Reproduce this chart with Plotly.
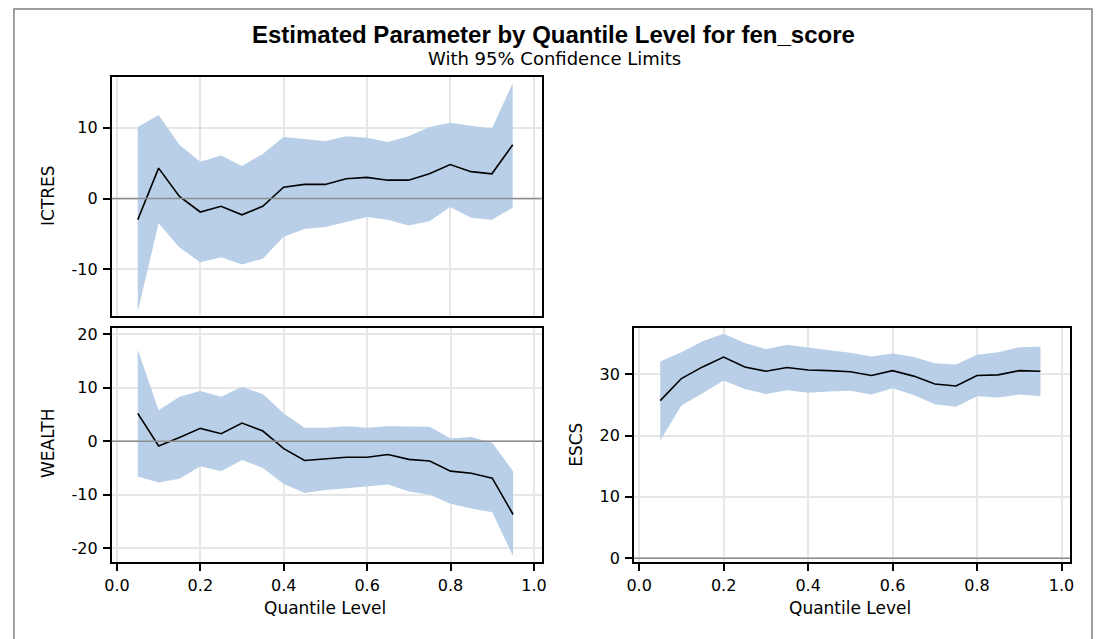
import plotly.graph_objects as go

# Quantile levels at which the regression was estimated
quantiles = [0.05, 0.10, 0.15, 0.20, 0.25, 0.30, 0.35, 0.40, 0.45, 0.50,
             0.55, 0.60, 0.65, 0.70, 0.75, 0.80, 0.85, 0.90, 0.95]

# ICTRES: estimate and 95% confidence limits
ictres_est = [-3.0, 4.3, 0.3, -1.9, -1.1, -2.3, -1.1, 1.6, 2.0, 2.0,
              2.8, 3.0, 2.6, 2.6, 3.5, 4.8, 3.8, 3.5, 7.6]
ictres_upper = [10.1, 11.8, 7.6, 5.2, 6.1, 4.6, 6.3, 8.7, 8.4, 8.1,
                8.8, 8.6, 8.0, 8.8, 10.1, 10.7, 10.3, 9.9, 16.3]
ictres_lower = [-16.0, -3.5, -6.9, -9.0, -8.3, -9.3, -8.5, -5.4, -4.3, -4.0,
                -3.3, -2.6, -3.0, -3.8, -3.2, -1.2, -2.7, -3.0, -1.3]

# WEALTH: estimate and 95% confidence limits
wealth_est = [5.2, -0.9, 0.7, 2.4, 1.4, 3.4, 1.9, -1.4, -3.6, -3.3,
              -3.0, -3.0, -2.5, -3.4, -3.7, -5.6, -6.0, -6.9, -13.7]
wealth_upper = [17.1, 5.8, 8.3, 9.4, 8.3, 10.2, 8.8, 5.2, 2.5, 2.5,
                2.8, 2.5, 2.8, 2.7, 2.7, 0.5, 0.8, -0.3, -5.6]
wealth_lower = [-6.6, -7.7, -7.0, -4.7, -5.6, -3.5, -5.0, -8.0, -9.7, -9.1,
                -8.8, -8.4, -8.1, -9.4, -10.0, -11.7, -12.6, -13.3, -21.5]

# ESCS: estimate and 95% confidence limits
escs_est = [25.7, 29.3, 31.2, 32.8, 31.2, 30.5, 31.1, 30.7, 30.6, 30.4,
            29.8, 30.6, 29.7, 28.4, 28.1, 29.8, 29.9, 30.6, 30.5]
escs_upper = [32.1, 33.6, 35.4, 36.6, 35.1, 34.1, 34.8, 34.3, 33.9, 33.5,
              32.9, 33.4, 32.8, 31.8, 31.6, 33.2, 33.6, 34.4, 34.5]
escs_lower = [19.2, 24.9, 26.9, 29.0, 27.6, 26.8, 27.4, 27.0, 27.2, 27.3,
              26.7, 27.7, 26.6, 25.1, 24.7, 26.4, 26.2, 26.7, 26.4]

# Tick positions and labels
x_ticks = [0.0, 0.2, 0.4, 0.6, 0.8, 1.0]
x_tick_text = ["0.0", "0.2", "0.4", "0.6", "0.8", "1.0"]
ictres_ticks = [-10, 0, 10]
ictres_tick_text = ["-10", "0", "10"]
wealth_ticks = [-20, -10, 0, 10, 20]
wealth_tick_text = ["-20", "-10", "0", "10", "20"]
escs_ticks = [0, 10, 20, 30]
escs_tick_text = ["0", "10", "20", "30"]

x_range = [-0.0125, 1.0195]

BAND = "#b8cfe7"
GRID = "#e6e6e6"
TITLE_FONT = "Liberation Sans, Arial, sans-serif"
FONT = "DejaVu Sans, Verdana, sans-serif"

panels = [
    # (axis suffix, estimate, upper, lower, y range, y ticks, y labels, x domain, y domain)
    ("", ictres_est, ictres_upper, ictres_lower, [-16.6, 17.2],
     ictres_ticks, ictres_tick_text, [0.0955, 0.4914], [0.5039, 0.8842]),
    ("2", wealth_est, wealth_upper, wealth_lower, [-22.6, 21.1],
     wealth_ticks, wealth_tick_text, [0.0955, 0.4918], [0.1127, 0.4844]),
    ("3", escs_est, escs_upper, escs_lower, [-0.65, 37.5],
     escs_ticks, escs_tick_text, [0.5763, 0.9777], [0.1127, 0.4844]),
]

fig = go.Figure()
layout_axes = {}
shapes = []

for i, (sfx, est, upper, lower, yr, yt, ytt, xd, yd) in enumerate(panels):
    xa, ya = "x" + sfx, "y" + sfx
    # confidence band
    fig.add_trace(go.Scatter(x=quantiles, y=lower, mode="lines",
                             line=dict(width=0, color=BAND), hoverinfo="skip",
                             showlegend=False, xaxis=xa, yaxis=ya))
    fig.add_trace(go.Scatter(x=quantiles, y=upper, mode="lines", fill="tonexty",
                             fillcolor=BAND, line=dict(width=0, color=BAND),
                             hoverinfo="skip", showlegend=False, xaxis=xa, yaxis=ya))
    # parameter estimate
    fig.add_trace(go.Scatter(x=quantiles, y=est, mode="lines",
                             line=dict(color="black", width=1.6),
                             showlegend=False, xaxis=xa, yaxis=ya))

    common = dict(showline=True, mirror=True, linecolor="black", linewidth=1.6,
                  ticks="outside", ticklen=7, tickwidth=1.5, tickcolor="black",
                  showgrid=True, gridcolor=GRID, gridwidth=1.5, zeroline=False,
                  tickfont=dict(family=FONT, size=16, color="black"))
    xaxis = dict(common, domain=xd, range=x_range, tickvals=x_ticks,
                 ticktext=x_tick_text, anchor=ya, ticklabelstandoff=1)
    if i == 0:
        # upper panel shares the quantile axis with the panel below
        xaxis.update(ticks="", showticklabels=False)
    layout_axes["xaxis" + sfx] = xaxis
    layout_axes["yaxis" + sfx] = dict(common, domain=yd, range=yr, tickvals=yt,
                                      ticktext=ytt, anchor=xa, ticklabelstandoff=2)
    # reference line at zero
    shapes.append(dict(type="line", xref=xa + " domain", yref=ya,
                       x0=0, x1=1, y0=0, y1=0, layer="above",
                       line=dict(color="#8c8c8c", width=1.5)))

# outer frame of the graphic
shapes.append(dict(type="rect", xref="paper", yref="paper",
                   x0=6 / 1099, x1=1097 / 1099, y0=-0.05, y1=1 - 5 / 639,
                   line=dict(color="#808080", width=1.5), layer="below"))

annotations = [
    dict(text="<b>Estimated Parameter by Quantile Level for fen_score</b>",
         x=0.502, y=1 - 31 / 639, font=dict(family=TITLE_FONT, size=24, color="black")),
    dict(text="With 95% Confidence Limits",
         x=0.503, y=1 - 55 / 639, font=dict(family=FONT, size=18, color="black")),
    dict(text="ICTRES", x=40.5 / 1099, y=1 - 195 / 639, textangle=-90,
         font=dict(family=FONT, size=17, color="black")),
    dict(text="WEALTH", x=40.5 / 1099, y=1 - 447 / 639, textangle=-90,
         font=dict(family=FONT, size=17, color="black")),
    dict(text="ESCS", x=574.6 / 1099, y=1 - 448 / 639, textangle=-90,
         font=dict(family=FONT, size=17, color="black")),
    dict(text="Quantile Level", x=321 / 1099, y=1 - 614 / 639,
         font=dict(family=FONT, size=17, color="black")),
    dict(text="Quantile Level", x=852 / 1099, y=1 - 614 / 639,
         font=dict(family=FONT, size=17, color="black")),
]
for a in annotations:
    a.update(xref="paper", yref="paper", xanchor="center", yanchor="middle",
             showarrow=False)

fig.update_layout(
    width=1099, height=639,
    margin=dict(l=0, r=0, t=0, b=0),
    paper_bgcolor="white", plot_bgcolor="white",
    font=dict(family=FONT, color="black"),
    shapes=shapes, annotations=annotations,
    **layout_axes,
)

fig.write_html("out.html")
